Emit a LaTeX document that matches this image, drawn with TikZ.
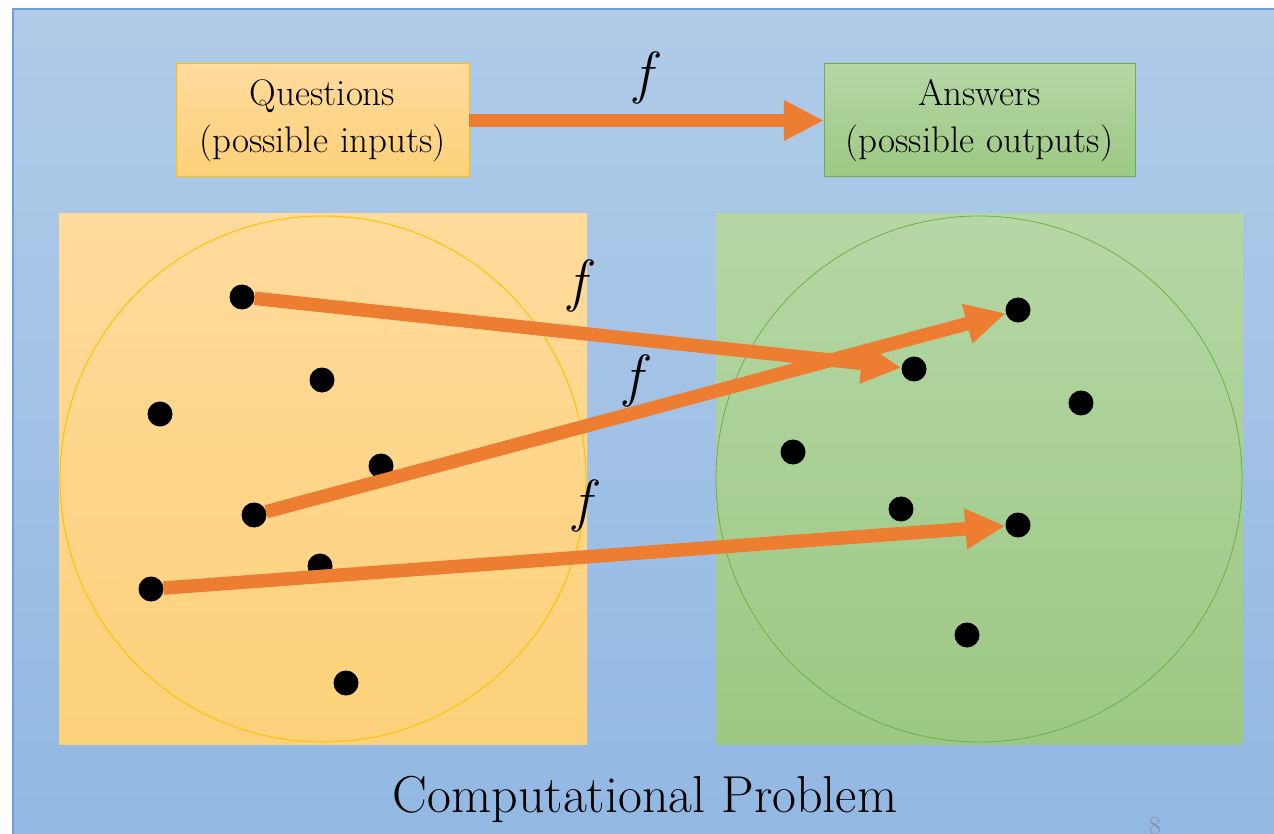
\documentclass[tikz,border=0pt]{standalone}
\usepackage{fontspec}
\usetikzlibrary{arrows.meta}
\definecolor{bgtop}{HTML}{B1CBE8}
\definecolor{bgbot}{HTML}{91B8E3}
\definecolor{bgedge}{HTML}{6F9FD8}
\definecolor{ytop}{HTML}{FFDB9C}
\definecolor{ybot}{HTML}{FDD17A}
\definecolor{yedge}{HTML}{FFC000}
\definecolor{gtop}{HTML}{B5D7A5}
\definecolor{gbot}{HTML}{9DC884}
\definecolor{gedge}{HTML}{70AD47}
\definecolor{orng}{HTML}{ED7D31}
\definecolor{pggray}{HTML}{8A8F99}
\tikzset{
  dot/.style={circle, fill=black, inner sep=0pt, minimum size=25pt},
  bigarrow/.style={draw=orng, line width=13.5pt, -{Triangle[length=40pt,width=38pt]}},
  flabel/.style={font=\fontsize{58}{60}\selectfont\itshape},
  labelbox/.style={text width=#1, align=center, inner sep=0pt, font=\fontsize{37}{47}\selectfont},
}
\begin{document}
\begin{tikzpicture}[x=1pt,y=-1pt]
\useasboundingbox (0,0) rectangle (1274,834);
% background
\shade[top color=bgtop, bottom color=bgbot] (13,9) rectangle (1300,860);
\draw[bgedge, line width=2.5pt] (13,860) -- (13,9) -- (1300,9);
% top boxes
\shade[top color=ytop, bottom color=ybot] (176,64) rectangle (469,177);
\draw[yedge, line width=1pt] (176,64) rectangle (469,177);
\node[labelbox=293pt, minimum height=113pt] (Q) at (322.5,120.5) {Questions\\(possible inputs)};
\shade[top color=gtop, bottom color=gbot] (824,64) rectangle (1135,177);
\draw[gedge, line width=1pt] (824,64) rectangle (1135,177);
\node[labelbox=311pt, minimum height=113pt] (A) at (979.5,120.5) {Answers\\(possible outputs)};
\draw[bigarrow] (Q.east) -- (A.west);
\node[flabel] (f0) at (643,78) {f};
% panels
\shade[top color=ytop, bottom color=ybot] (59,214) rectangle (587,744);
\draw[yedge, line width=1pt] (323,479) circle (263);
\shade[top color=gtop, bottom color=gbot] (716,214) rectangle (1243,744);
\draw[gedge, line width=0.8pt] (979,479) circle (263);
% dots left
\node[dot] (q1) at (242,297) {};
\node[dot] (q2) at (322,380) {};
\node[dot] (q3) at (160,414) {};
\node[dot] (q4) at (381,466) {};
\node[dot] (q5) at (254,515) {};
\node[dot] (q6) at (320,566) {};
\node[dot] (q7) at (151,589) {};
\node[dot] (q8) at (346,683) {};
% dots right
\node[dot] (a1) at (1018,310) {};
\node[dot] (a2) at (914,369) {};
\node[dot] (a3) at (1081,403) {};
\node[dot] (a4) at (793,452) {};
\node[dot] (a5) at (901,509) {};
\node[dot] (a6) at (1018,525) {};
\node[dot] (a7) at (967,635) {};
% mapping arrows
\draw[bigarrow] (q1) -- (a2);
\draw[bigarrow] (q5) -- (a1);
\draw[bigarrow] (q7) -- (a6);
\node[flabel] (f1) at (577,286) {f};
\node[flabel] (f2) at (633,381) {f};
\node[flabel] (f3) at (582,506) {f};
% title
\node[font=\fontsize{52}{55}\selectfont] (title) at (645,799) {Computational Problem};
\node[font=\fontsize{26}{28}\selectfont, text=pggray, inner sep=0pt, anchor=north] (pg) at (1155,817) {8};
\end{tikzpicture}
\end{document}
